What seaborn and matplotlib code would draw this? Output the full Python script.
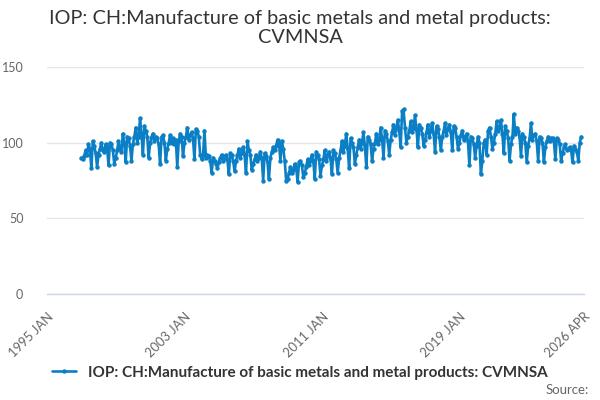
import matplotlib
matplotlib.use("Agg")
import matplotlib.pyplot as plt
import seaborn as sns
import pandas as pd

title = "IOP: CH:Manufacture of basic metals and metal products:\nCVMNSA"
series_name = "IOP: CH:Manufacture of basic metals and metal products: CVMNSA"
start_month = "1997-01-01"

v1997 = [90, 89, 91, 95, 92, 99, 96, 83, 101, 98, 93, 84]
v1998 = [92, 96, 100, 95, 94, 99, 97, 85, 100, 99, 95, 86]
v1999 = [90, 95, 101, 96, 94, 106, 100, 87, 104, 103, 98, 88]
v2000 = [99, 104, 110, 100, 104, 116, 106, 92, 111, 108, 104, 90]
v2001 = [100, 104, 106, 101, 104, 103, 99, 86, 104, 105, 100, 88]
v2002 = [96, 100, 105, 100, 103, 99, 102, 84, 101, 106, 104, 91]
v2003 = [100, 104, 110, 102, 105, 107, 103, 89, 109, 108, 104, 92]
v2004 = [89, 92, 108, 90, 92, 91, 88, 80, 90, 88, 86, 83]
v2005 = [87, 90, 92, 88, 90, 92, 89, 79, 93, 92, 88, 81]
v2006 = [88, 92, 96, 90, 93, 97, 92, 80, 101, 95, 92, 82]
v2007 = [86, 89, 92, 88, 90, 94, 90, 75, 93, 91, 87, 76]
v2008 = [90, 94, 97, 95, 98, 102, 100, 88, 101, 96, 88, 75]
v2009 = [76, 80, 84, 80, 82, 86, 84, 74, 87, 88, 85, 77]
v2010 = [80, 84, 89, 85, 88, 92, 88, 76, 94, 92, 89, 78]
v2011 = [85, 89, 95, 88, 92, 94, 90, 79, 95, 93, 89, 80]
v2012 = [90, 95, 101, 94, 98, 106, 96, 83, 103, 100, 97, 86]
v2013 = [92, 97, 102, 96, 100, 107, 98, 84, 104, 102, 99, 88]
v2014 = [96, 100, 106, 99, 102, 110, 103, 90, 108, 106, 101, 92]
v2015 = [102, 107, 112, 105, 110, 115, 108, 97, 121, 122, 110, 100]
v2016 = [104, 108, 114, 107, 110, 118, 109, 97, 112, 110, 106, 98]
v2017 = [102, 107, 112, 104, 108, 113, 106, 94, 111, 109, 104, 95]
v2018 = [104, 108, 113, 105, 109, 112, 107, 95, 111, 110, 104, 96]
v2019 = [100, 105, 108, 102, 104, 106, 101, 85, 104, 103, 99, 90]
v2020 = [98, 104, 100, 79, 88, 100, 102, 92, 108, 110, 104, 96]
v2021 = [100, 106, 114, 108, 110, 115, 106, 93, 111, 108, 103, 88]
v2022 = [99, 104, 119, 106, 110, 108, 104, 91, 106, 104, 100, 87]
v2023 = [98, 103, 113, 102, 105, 106, 101, 88, 104, 103, 100, 87]
v2024 = [97, 101, 104, 101, 103, 103, 101, 89, 103, 102, 99, 88]
v2025 = [93, 97, 99, 95, 96, 97, 95, 87, 98, 96, 94, 88]
v2026 = [100, 104]

y_ticks = [0, 50, 100, 150]
x_label_ticks = ["1995-01-01", "2003-01-01", "2011-01-01", "2019-01-01", "2026-04-01"]
x_minor_years = list(range(1995, 2026, 2))

values = (v1997 + v1998 + v1999 + v2000 + v2001 + v2002 + v2003 + v2004 + v2005 +
          v2006 + v2007 + v2008 + v2009 + v2010 + v2011 + v2012 + v2013 + v2014 +
          v2015 + v2016 + v2017 + v2018 + v2019 + v2020 + v2021 + v2022 + v2023 +
          v2024 + v2025 + v2026)
dates = pd.date_range(start_month, periods=len(values), freq="MS")
df = pd.DataFrame({"date": dates, "value": values})

sns.set_theme(style="white")
plt.rcParams["font.family"] = ["Lato", "DejaVu Sans"]

color = "#0a7fc6"
fig = plt.figure(figsize=(6, 4), dpi=100)
ax = fig.add_axes([0.0783, 0.265, 0.895, 0.5675])

sns.lineplot(data=df, x="date", y="value", ax=ax, color=color, linewidth=1.9,
             marker="o", markersize=3.2, markeredgewidth=0, label=series_name)

ax.set_xlim(pd.Timestamp("1995-01-01"), pd.Timestamp("2026-04-01"))
ax.set_ylim(0, 150)
ax.set_yticks(y_ticks)
ax.set_yticklabels([str(t) for t in y_ticks])
ax.yaxis.grid(True, color="#e6e6e6", linewidth=1)
ax.xaxis.grid(False)
for s in ["top", "right", "left"]:
    ax.spines[s].set_visible(False)
ax.spines["bottom"].set_color("#ccd6eb")
ax.spines["bottom"].set_linewidth(1)

all_ticks = [pd.Timestamp(f"{y}-01-01") for y in x_minor_years] + [pd.Timestamp("2026-04-01")]
ax.set_xticks(all_ticks)
lab_set = set(pd.Timestamp(t) for t in x_label_ticks)
labels = [t.strftime("%Y %b").upper() if t in lab_set else "" for t in all_ticks]
ax.set_xticklabels(labels, rotation=45, ha="right", rotation_mode="anchor")
ax.tick_params(axis="x", length=10, width=1, color="#ccd6eb", labelsize=9.3,
               labelcolor="#666666", pad=2, direction="out")
ax.tick_params(axis="y", length=0, labelsize=9, labelcolor="#666666", pad=17)
ax.set_xlabel("")
ax.set_ylabel("")

fig.text(0.5, 0.975, title, ha="center", va="top", fontsize=14.3, color="#333333",
         linespacing=1.12)

ax.legend_.remove()
fig.legend(loc="center", bbox_to_anchor=(0.5, 0.068), frameon=False,
           prop={"size": 11, "weight": "bold"}, handlelength=1.6,
           labelcolor="#333333")
fig.text(0.982, 0.025, "Source:", ha="right", va="center", fontsize=9.5, color="#666666")

fig.savefig("out.png", dpi=100)
